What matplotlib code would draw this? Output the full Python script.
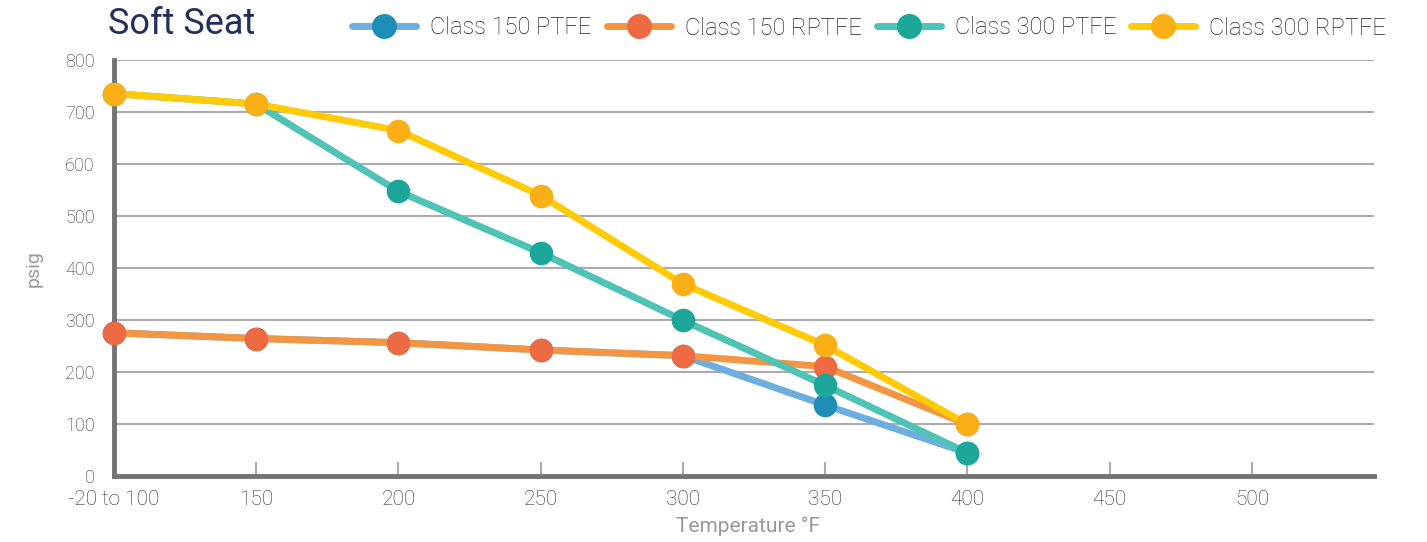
import matplotlib.pyplot as plt
from matplotlib.lines import Line2D

plt.rcParams['font.family'] = ['Roboto', 'DejaVu Sans']
plt.rcParams['font.weight'] = 'light'

temps = ["-20 to 100", "150", "200", "250", "300", "350", "400", "450", "500"]

# psig per temperature step (first 7 categories)
c150_ptfe = [276, 265, 257, 243, 232, 137, 45]
c150_rptfe = [276, 265, 257, 243, 232, 211, 100]
c300_ptfe = [736, 716, 548, 430, 300, 175, 45]
c300_rptfe = [736, 716, 665, 540, 370, 252, 100]

series = [
    ("Class 150 PTFE", c150_ptfe, "#6daee0", "#1e8db8"),
    ("Class 150 RPTFE", c150_rptfe, "#f39643", "#ee6a42"),
    ("Class 300 PTFE", c300_ptfe, "#4ec3b6", "#1da79b"),
    ("Class 300 RPTFE", c300_rptfe, "#ffca08", "#fbaf17"),
]

fig = plt.figure(figsize=(14.27, 5.42), dpi=100)
ax = fig.add_axes([0.0799, 0.1212, 0.883, 0.7675])

handles = []
for i, (name, vals, lc, mc) in enumerate(series):
    x = list(range(len(vals)))
    ax.plot(x, vals, color=lc, lw=5, solid_capstyle='round', zorder=3 + i * 0.1,
            clip_on=False)
    ax.plot(x, vals, ls='none', marker='o', ms=17, mfc=mc, mec='none',
            zorder=3.05 + i * 0.1, clip_on=False)
    handles.append(Line2D([0], [0], color=lc, lw=5, solid_capstyle='round',
                          marker='o', ms=18, mfc=mc, mec='none', label=name))

ax.set_xlim(0, 8.86)
ax.set_ylim(0, 800)
ax.set_xticks(range(len(temps)))
ax.set_xticklabels(temps)
ax.set_yticks(range(0, 801, 100))

ax.grid(axis='y', color='#acacaf', lw=1.5, zorder=1)
ax.set_axisbelow(True)
for s in ['top', 'right']:
    ax.spines[s].set_visible(False)
for s in ['left', 'bottom']:
    ax.spines[s].set_color('#737373')
    ax.spines[s].set_linewidth(3.5)

ax.tick_params(axis='x', direction='in', length=10, width=1.5, color='#acacaf',
               pad=10, labelsize=15, labelcolor='#2e2e2e')
ax.tick_params(axis='y', length=0, pad=14, labelsize=13, labelcolor='#2e2e2e')

ax.set_xlabel("Temperature °F", fontsize=15, color='#999999')
ax.xaxis.set_label_coords(0.503, -0.097)
ax.set_ylabel("psig", fontsize=14, color='#999999')
ax.yaxis.set_label_coords(-0.057, 0.5)

fig.text(108 / 1427, 1 - 24 / 542, "Soft Seat", fontsize=26, color='#22305e',
         va='center', ha='left', fontweight='normal')

fig.legend(handles=handles, loc='center right', bbox_to_anchor=(0.978, 1 - 28 / 542),
           ncol=4, frameon=False, fontsize=17, handlelength=2.7, handletextpad=0.6,
           columnspacing=0.65, labelcolor='#222222', borderaxespad=0)

fig.savefig("out.png", dpi=100)
